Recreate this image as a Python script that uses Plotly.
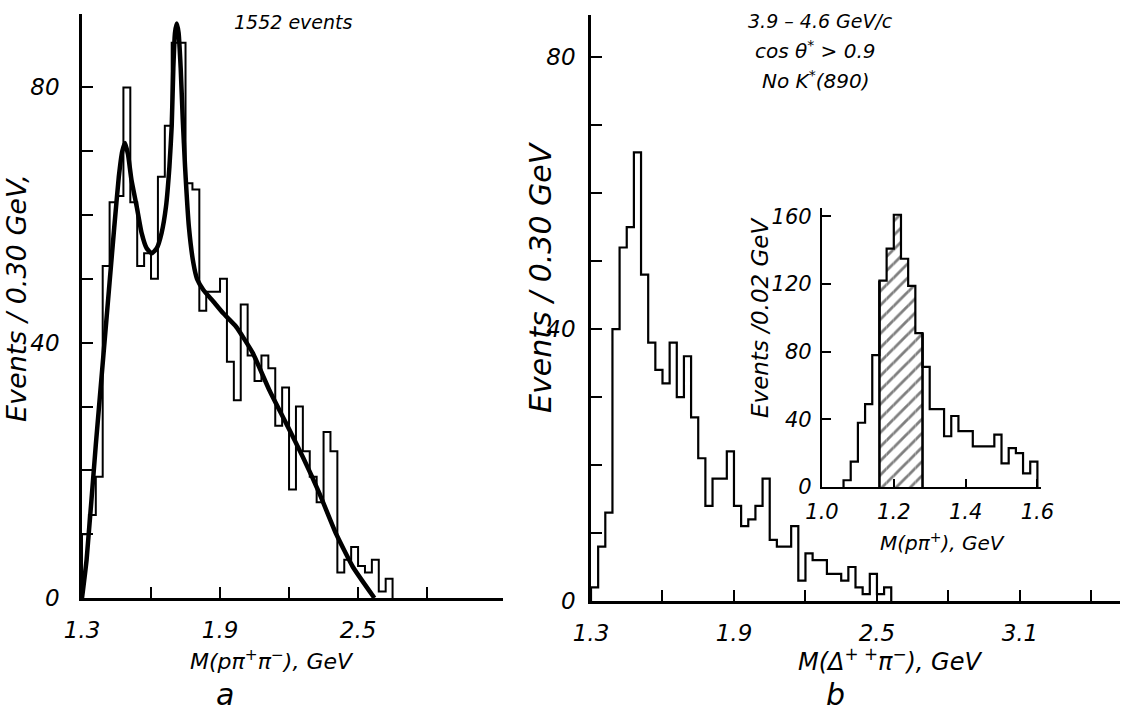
import plotly.graph_objects as go

W, H = 1125, 713

# ---------------- data ----------------
# (a) M(p pi+ pi-) histogram, 0.03 GeV bins starting at 1.30 GeV
a_start = 1.30
a_width = 0.03
a_counts = [10, 13, 19, 52, 62, 63, 80, 62, 52, 54,
            50, 66, 74, 87, 87, 65, 64, 45, 48, 48,
            50, 37, 31, 46, 38, 34, 38, 36, 27, 33,
            17, 30, 23, 19, 15, 26, 23, 4, 6, 8,
            5, 4, 6, 1, 3]

# (a) fitted curve
fit_mass = [1.30, 1.32, 1.36, 1.40, 1.44, 1.46, 1.475, 1.487, 1.50, 1.515,
            1.538, 1.559, 1.581, 1.603, 1.625, 1.646, 1.665, 1.68, 1.69, 1.697,
            1.704, 1.712, 1.72, 1.729, 1.738, 1.748, 1.765, 1.784, 1.80, 1.827,
            1.87, 1.914, 1.97, 2.042, 2.114, 2.187, 2.26, 2.332, 2.404, 2.477, 2.571]
fit_events = [0, 6, 24, 41, 58, 66, 70, 71.3, 69.5, 65.5,
              61.3, 57.2, 54.8, 54, 54.8, 57.2, 61.3, 67.6, 74, 83,
              88.5, 90, 88.5, 83, 75, 67.6, 58, 52.5, 50, 48.3,
              46.5, 44.6, 42.5, 38.4, 32.6, 27.4, 22.1, 16.4, 10.1, 4.9, 0]

# (b) M(Delta++ pi-) histogram, 0.03 GeV bins starting at 1.30 GeV
b_start = 1.30
b_width = 0.03
b_counts = [2, 8, 13, 40, 52, 55, 66, 48, 38, 34,
            32, 38, 30, 36, 27, 21, 14, 18, 18, 22,
            14, 11, 12, 14, 18, 9, 8, 8, 11, 3,
            7, 6, 6, 4, 4, 3, 5, 2, 1, 4,
            1, 2]

# (b) inset: M(p pi+), 0.02 GeV bins starting at 1.06 GeV
c_start = 1.06
c_width = 0.02
c_counts = [4, 15, 38, 49, 78, 122, 141, 161, 135, 119,
            91, 71, 46, 46, 30, 42, 33, 33, 24, 24,
            24, 31, 14, 23, 20, 8, 15]
hatch_lo, hatch_hi = 1.16, 1.28   # Delta++ selection band

# axis ticks
a_xticks = [1.3, 1.6, 1.9, 2.2, 2.5, 2.8]
a_xlabels = ["1.3", "", "1.9", "", "2.5", ""]
b_xticks = [1.3, 1.6, 1.9, 2.2, 2.5, 2.8, 3.1, 3.4]
b_xlabels = ["1.3", "", "1.9", "", "2.5", "", "3.1", ""]
main_yticks = [0, 10, 20, 30, 40, 50, 60, 70, 80]
main_ylabels = ["0", "", "", "", "40", "", "", "", "80"]
c_xticks = [1.0, 1.2, 1.4, 1.6]
c_xlabels = ["1.0", "1.2", "1.4", "1.6"]
c_yticks = [0, 40, 80, 120, 160]
c_ylabels = ["0", "40", "80", "120", "160"]

# ---------------- helpers ----------------
FONT = "DejaVu Sans"


def steps(start, width, counts):
    """Outline of a histogram as an 'hv' step path."""
    edges = [start + width * i for i in range(len(counts) + 1)]
    xs = [edges[0]] + edges[:-1] + [edges[-1]]
    ys = [0] + list(counts) + [0]
    return xs, ys


def px(x):
    return x / W


def py(y):
    return 1 - y / H


fig = go.Figure()

# (a) histogram + fit
xs, ys = steps(a_start, a_width, a_counts)
fig.add_trace(go.Scatter(x=xs, y=ys, mode="lines", line=dict(color="black", width=2, shape="hv"),
                         xaxis="x", yaxis="y", hoverinfo="skip"))
fig.add_trace(go.Scatter(x=fit_mass, y=fit_events, mode="lines",
                         line=dict(color="black", width=4.5, shape="spline", smoothing=0.45),
                         xaxis="x", yaxis="y", hoverinfo="skip"))

# (b) histogram
xs, ys = steps(b_start, b_width, b_counts)
fig.add_trace(go.Scatter(x=xs, y=ys, mode="lines", line=dict(color="black", width=2.2, shape="hv"),
                         xaxis="x2", yaxis="y2", hoverinfo="skip"))

# inset: hatched band
c_centers = [c_start + c_width * (i + 0.5) for i in range(len(c_counts))]
band = [(c, n) for c, n in zip(c_centers, c_counts) if hatch_lo < c < hatch_hi]
fig.add_trace(go.Bar(x=[c for c, _ in band], y=[n for _, n in band], width=c_width,
                     marker=dict(color="white", line=dict(width=0),
                                 pattern=dict(shape="/", fgcolor="black", bgcolor="white",
                                              size=10, solidity=0.28)),
                     xaxis="x3", yaxis="y3", hoverinfo="skip"))
# band boundaries
lo_h = c_counts[round((hatch_lo - c_start) / c_width)]
hi_h = c_counts[round((hatch_hi - c_start) / c_width) - 1]
fig.add_trace(go.Scatter(x=[hatch_lo, hatch_lo, None, hatch_hi, hatch_hi],
                         y=[0, lo_h, None, 0, hi_h], mode="lines",
                         line=dict(color="black", width=2.6), xaxis="x3", yaxis="y3",
                         hoverinfo="skip"))
xs, ys = steps(c_start, c_width, c_counts)
fig.add_trace(go.Scatter(x=xs, y=ys, mode="lines", line=dict(color="black", width=2.2, shape="hv"),
                         xaxis="x3", yaxis="y3", hoverinfo="skip"))

tickfont = dict(family=FONT, size=23, color="black", style="italic")
inset_tickfont = dict(family=FONT, size=21, color="black", style="italic")

common = dict(showgrid=False, zeroline=False, showline=True, linecolor="black",
              ticks="inside", tickcolor="black", tickmode="array", automargin=False)

fig.update_layout(
    width=W, height=H, margin=dict(l=0, r=0, t=0, b=0, autoexpand=False),
    paper_bgcolor="white", plot_bgcolor="rgba(0,0,0,0)", showlegend=False,
    font=dict(family=FONT, color="black", style="italic"),
    barmode="overlay",
    xaxis=dict(domain=[px(82), px(503)], range=[1.3, 3.13], anchor="y",
               tickvals=a_xticks, ticktext=a_xlabels, linewidth=2.6, ticklen=11, tickwidth=2,
               tickfont=tickfont, ticklabelstandoff=10, **common),
    yaxis=dict(domain=[py(598), py(14)], range=[0, 91.5], anchor="x",
               tickvals=main_yticks + [91.5], ticktext=main_ylabels + [""],
               linewidth=2.6, ticklen=11, tickwidth=2, tickfont=tickfont,
               ticklabelstandoff=15, **common),
    xaxis2=dict(domain=[px(591), px(1120)], range=[1.3, 3.52], anchor="y2",
                tickvals=b_xticks, ticktext=b_xlabels, linewidth=2.6, ticklen=11, tickwidth=2,
                tickfont=tickfont, ticklabelstandoff=10, **common),
    yaxis2=dict(domain=[py(601), py(15)], range=[0, 86.2], anchor="x2",
                tickvals=main_yticks + [86.2], ticktext=main_ylabels + [""],
                linewidth=2.6, ticklen=11, tickwidth=2, tickfont=tickfont,
                ticklabelstandoff=8, **common),
    xaxis3=dict(domain=[px(822), px(1041)], range=[1.0, 1.61], anchor="y3",
                tickvals=c_xticks, ticktext=c_xlabels, linewidth=2.2, ticklen=8, tickwidth=2,
                tickfont=inset_tickfont, ticklabelstandoff=5, **common),
    yaxis3=dict(domain=[py(487), py(208)], range=[0, 165], anchor="x3",
                tickvals=c_yticks, ticktext=c_ylabels, linewidth=2.2, ticklen=9, tickwidth=2,
                tickfont=inset_tickfont, ticklabelstandoff=4, **common),
)


def note(text, x, y, size=21, angle=0):
    fig.add_annotation(text=text, x=px(x), y=py(y), xref="paper", yref="paper",
                       showarrow=False, textangle=angle, xanchor="center", yanchor="middle",
                       font=dict(family=FONT, size=size, color="black", style="italic"))


note("1552 events", 294, 22, size=19)
note("3.9 – 4.6 GeV/c", 820, 21, size=19)
note("cos θ<sup>*</sup> > 0.9", 815, 50, size=20)
note("No K<sup>*</sup>(890)", 815, 80, size=20)
note("Events / 0.30 GeV,", 16, 298, size=27, angle=-90)
note("Events / 0.30 GeV", 540, 277, size=30, angle=-90)
note("Events /0.02 GeV", 760, 318, size=23, angle=-90)
note("M(pπ<sup>+</sup>π<sup>−</sup>), GeV", 272, 660, size=22)
note("M(Δ<sup>+ +</sup>π<sup>−</sup>), GeV", 890, 660, size=24)
note("M(pπ<sup>+</sup>), GeV", 942, 542, size=20)
note("a", 225, 694, size=30)
note("b", 836, 694, size=30)

fig.write_html("out.html")
